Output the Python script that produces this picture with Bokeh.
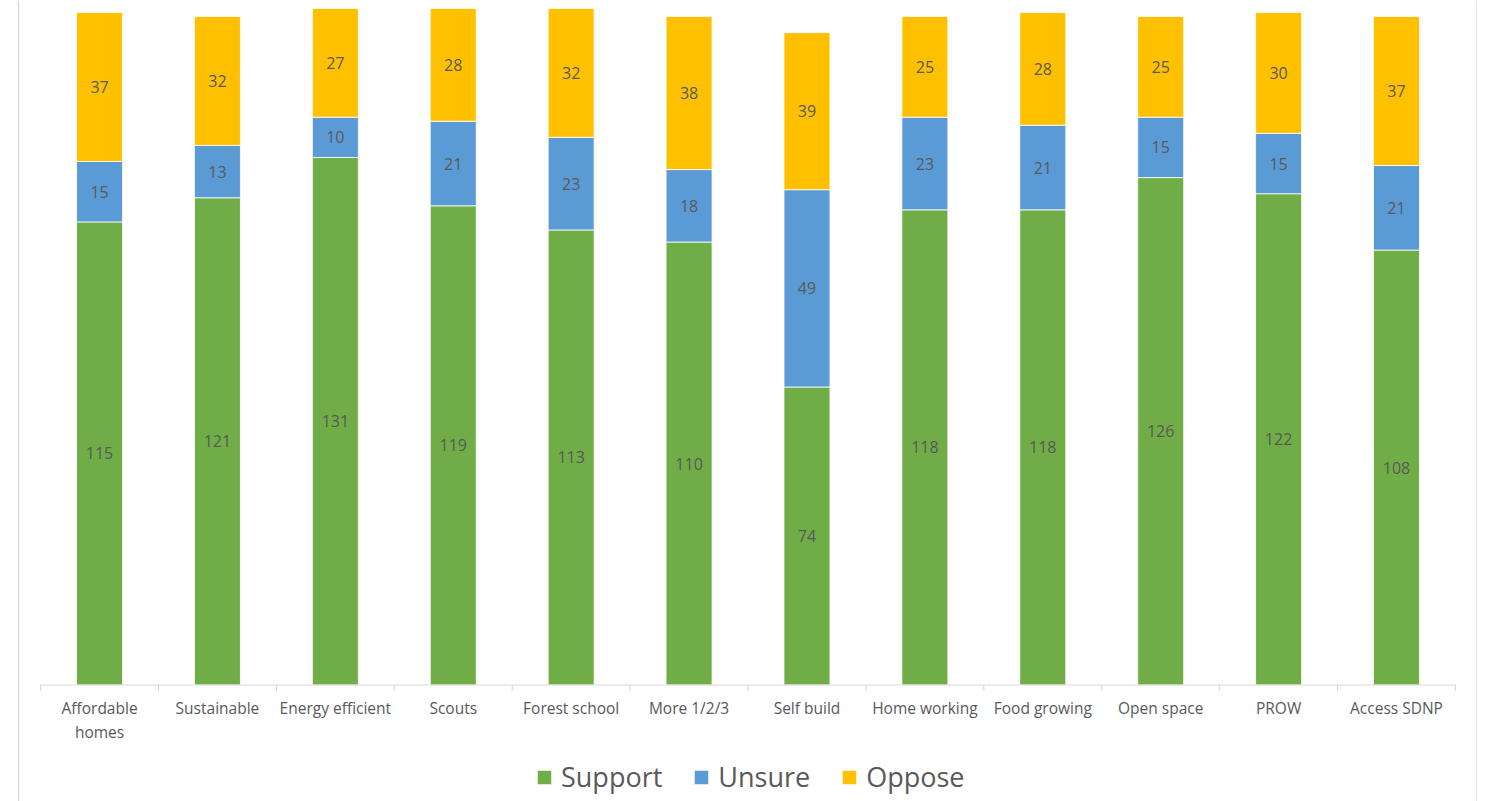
import numpy as np
from bokeh.plotting import figure
from bokeh.models import ColumnDataSource, Range1d, Legend, LegendItem, Span
from bokeh.core.properties import value
from bokeh.embed import file_html
from bokeh.resources import INLINE

categories = ["Affordable\nhomes", "Sustainable", "Energy efficient", "Scouts", "Forest school",
              "More 1/2/3", "Self build", "Home working", "Food growing", "Open space",
              "PROW", "Access SDNP"]
support = [115, 121, 131, 119, 113, 110, 74, 118, 118, 126, 122, 108]
unsure = [15, 13, 10, 21, 23, 18, 49, 23, 21, 15, 15, 21]
oppose = [37, 32, 27, 28, 32, 38, 39, 25, 28, 25, 30, 37]
series = ["Support", "Unsure", "Oppose"]
colors = ["#70AD47", "#5B9BD5", "#FFC000"]

n = len(categories)
xs = list(range(n))
src = ColumnDataSource(dict(x=xs, Support=support, Unsure=unsure, Oppose=oppose))

FONT = "Open Sans"
W, H = 1477, 801
p = figure(width=W, height=H, output_backend="svg", toolbar_location=None,
           x_range=Range1d(-0.840, 11.687), y_range=Range1d(-28.93, 169.98),
           min_border=0, min_border_left=0, min_border_right=0,
           min_border_top=0, min_border_bottom=0)
p.xaxis.visible = False
p.yaxis.visible = False
p.grid.visible = False
p.outline_line_color = None
p.background_fill_color = "white"
p.border_fill_color = "white"

rs = p.vbar_stack(series, x="x", width=0.39, source=src, color=colors,
                  line_color="white", line_width=0.8)

# data labels
vals = [support, unsure, oppose]
base = np.zeros(n)
for v in vals:
    v = np.array(v, dtype=float)
    mid = base + v / 2
    p.text(x=xs, y=list(mid), text=[str(int(a)) for a in v], text_align="center",
           text_baseline="middle", text_font=value(FONT), text_font_size="16px",
           text_color="#595959")
    base = base + v

# category axis drawn from data
p.segment(x0=[-0.5], y0=[0], x1=[n - 0.5], y1=[0], line_color="#d9d9d9", line_width=1.2)
bounds = [i - 0.5 for i in range(n + 1)]
p.ray(x=bounds, y=[0] * len(bounds), length=6, length_units="screen", angle=-np.pi / 2,
      line_color="#d9d9d9", line_width=1.2)
p.text(x=xs, y=[0] * n, text=categories, y_offset=12, text_align="center",
       text_baseline="top", text_font=value(FONT), text_font_size="15.5px",
       text_color="#595959", text_line_height=1.1)

# chart border (left/right)
p.add_layout(Span(location=-0.687, dimension="height", line_color="#d9d9d9", line_width=1.5))
p.add_layout(Span(location=11.683, dimension="height", line_color="#d9d9d9", line_width=1.5))

legend = Legend(items=[LegendItem(label=s, renderers=[r]) for s, r in zip(series, rs)],
                orientation="horizontal", location=(535, 6),
                glyph_width=18, glyph_height=18, label_standoff=8, spacing=30,
                padding=0, margin=0, border_line_color=None, background_fill_alpha=0,
                label_text_font=FONT, label_text_font_size="27px", label_text_color="#595959")
p.add_layout(legend)

open("out.html", "w").write(file_html(p, INLINE))
